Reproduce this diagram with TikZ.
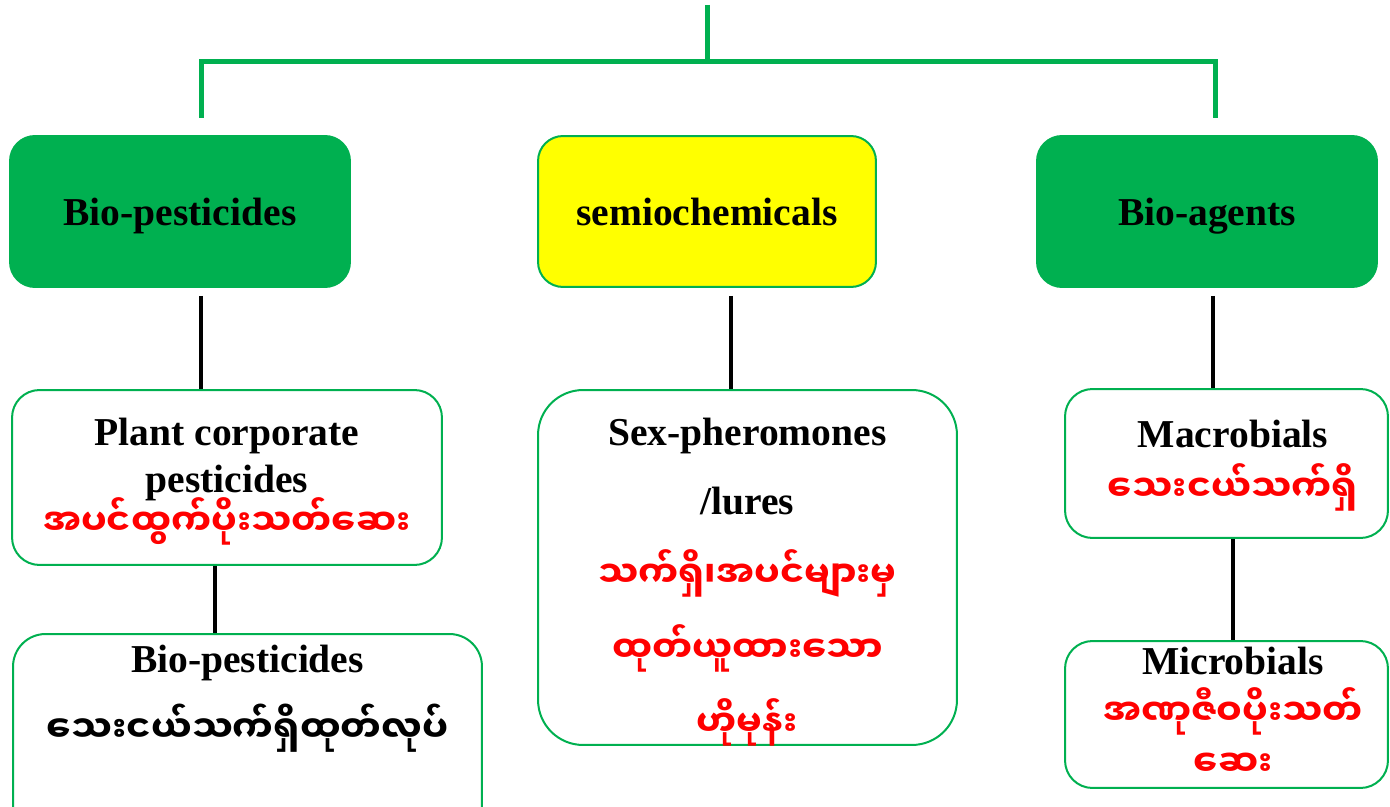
\documentclass[tikz,border=0pt]{standalone}
\usepackage{fontspec}
\setmainfont{Liberation Serif}
\newfontfamily\mmfont[Script=Myanmar]{Noto Sans Myanmar UI}
\usetikzlibrary{positioning}
\usepackage{xcolor}
\definecolor{leafgreen}{HTML}{00B050}
\definecolor{lureyellow}{HTML}{FFFF00}
\newcommand{\mmred}[1]{{\mmfont\bfseries\fontsize{20.5}{27}\selectfont\color{red}#1}}
\newcommand{\mmblack}[1]{{\mmfont\bfseries\fontsize{20.8}{27}\selectfont\color{black}#1}}

\begin{document}
\begin{tikzpicture}[
  x=0.02cm, y=-0.02cm,
  headbox/.style={draw=leafgreen, line width=0.04cm, fill=leafgreen, rounded corners=0.5cm,
    minimum height=3.02cm, inner sep=0pt, text depth=0pt, font=\fontsize{22.5}{27}\selectfont\bfseries},
  subbox/.style={draw=leafgreen, line width=0.04cm, fill=white, rounded corners=0.55cm, inner sep=0pt},
  boxtext/.style={align=center, anchor=north, font=\fontsize{22.5}{27}\selectfont\bfseries},
  tree/.style={leafgreen, line width=0.1cm},
  link/.style={black, line width=0.08cm}
]
\useasboundingbox (0,0) rectangle (1390,807);

% first level
\node[headbox, minimum width=6.8cm] (biopest) at (180,211.5) {Bio-pesticides};
\node[headbox, fill=lureyellow, minimum width=6.76cm] (semio) at (707,211.5) {semiochemicals};
\node[headbox, minimum width=6.8cm] (bioagent) at (1207,211.5) {Bio-agents};

% second level
\node[subbox, minimum width=8.6cm, minimum height=3.5cm] (plantpest) at (227,477.5) {};
\node[boxtext] (plantpesttxt) at ([yshift=-0.46cm]plantpest.north)
  {Plant corporate\\[-0.3pt] pesticides\\[-2.6pt] \mmred{အပင်ထွက်ပိုးသတ်ဆေး}};
\node[subbox, minimum width=8.38cm, minimum height=7.1cm, rounded corners=0.9cm] (sexpher) at (747.5,567.5) {};
\node[boxtext] (sexphertxt) at ([yshift=-0.46cm]sexpher.north)
  {Sex-pheromones\\[12pt] /lures\\[15pt] \mmred{သက်ရှိ၊အပင်များမှ}\\[14.5pt] \mmred{ထုတ်ယူထားသော}\\[14pt] \mmred{ဟိုမုန်း}};
\node[subbox, minimum width=6.46cm, minimum height=2.98cm] (macro) at (1226.5,463.5) {};
\node[boxtext] (macrotxt) at ([xshift=0.13cm, yshift=-0.52cm]macro.north)
  {Macrobials\\[3.5pt] \mmred{သေးငယ်သက်ရှိ}};

% third level
\node[subbox, minimum width=9.38cm, minimum height=4.12cm, rounded corners=0.65cm] (biopestb) at (247.5,737) {};
\node[boxtext] (biopestbtxt) at ([yshift=-0.12cm]biopestb.north)
  {Bio-pesticides\\[12.5pt] \mmblack{သေးငယ်သက်ရှိထုတ်လုပ်}};
\node[subbox, minimum width=6.46cm, minimum height=2.94cm] (micro) at (1226.5,714.5) {};
\node[boxtext] (microtxt) at ([xshift=0.13cm, yshift=-0.02cm]micro.north)
  {Microbials\\[2pt] \mmred{အဏုဇီဝပိုးသတ်}\\[2pt] \mmred{ဆေး}};

% green bracket on top
\coordinate (root) at (707,5);
\coordinate (hub) at (707,62);
\coordinate (dropL) at (201,118);
\coordinate (dropR) at (1215,118);
\draw[tree] (root) -- (hub);
\draw[tree] (dropL) |- (hub) -| (dropR);

% black links
\draw[link, shorten <=0.16cm] ([xshift=0.42cm]biopest.south) -- ([xshift=0.42cm]biopest.south |- plantpest.north);
\draw[link, shorten <=0.16cm] ([xshift=0.48cm]semio.south) -- ([xshift=0.48cm]semio.south |- sexpher.north);
\draw[link, shorten <=0.16cm] ([xshift=0.12cm]bioagent.south) -- ([xshift=0.12cm]bioagent.south |- macro.north);
\draw[link] ([xshift=-0.24cm]plantpest.south) -- ([xshift=-0.24cm]plantpest.south |- biopestb.north);
\draw[link] ([xshift=0.13cm]macro.south) -- ([xshift=0.13cm]macro.south |- micro.north);
\end{tikzpicture}
\end{document}
